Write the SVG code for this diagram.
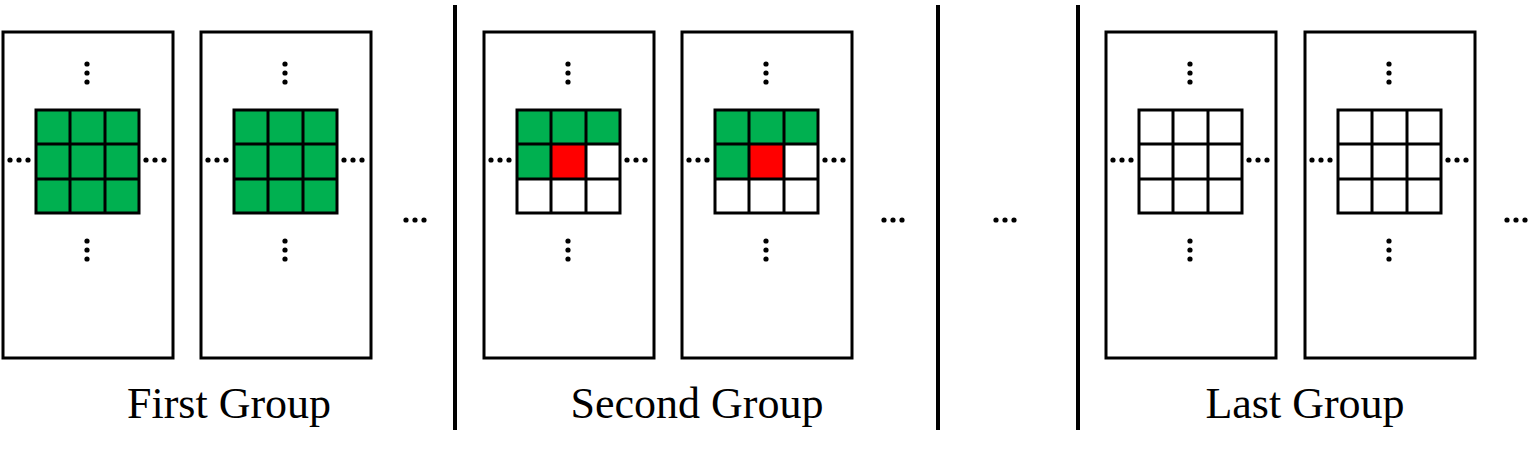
<svg xmlns="http://www.w3.org/2000/svg" width="1528" height="452" viewBox="0 0 1528 452">
<style>
.p{fill:#fff;stroke:#000;stroke-width:3}
.c{stroke:#000;stroke-width:3}
.g{fill:#00b050}.r{fill:#ff0000}.w{fill:#fff}
.t{font-family:"Liberation Serif",serif;font-size:44px;fill:#000}
.d{fill:#000}
</style>
<defs>
<g id="vd"><circle cx="0" cy="0" r="2.6"/><circle cx="0" cy="9" r="2.6"/><circle cx="0" cy="18" r="2.6"/></g>
<g id="hd"><circle cx="0" cy="0" r="2.6"/><circle cx="9" cy="0" r="2.6"/><circle cx="18" cy="0" r="2.6"/></g>
<g id="frame">
<rect class="p" x="0" y="0" width="170" height="326"/>
<use href="#vd" x="84" y="32"/><use href="#vd" x="84" y="209"/>
<use href="#hd" x="7" y="128"/><use href="#hd" x="143" y="128"/>
</g>
<g id="lines" fill="none" stroke="#000" stroke-width="3">
<rect x="33" y="78" width="103" height="103"/>
<line x1="67" y1="78" x2="67" y2="181"/><line x1="102" y1="78" x2="102" y2="181"/>
<line x1="33" y1="112" x2="136" y2="112"/><line x1="33" y1="147" x2="136" y2="147"/>
</g>
<g id="gA"><use href="#frame"/><rect class="g" x="33" y="78" width="103" height="103"/><use href="#lines"/></g>
<g id="gB"><use href="#frame"/><rect class="g" x="33" y="78" width="103" height="34"/><rect class="g" x="33" y="112" width="34" height="35"/><rect class="r" x="67" y="112" width="35" height="35"/><use href="#lines"/></g>
<g id="gC"><use href="#frame"/><use href="#lines"/></g>
</defs>
<g id="node-p1"><use href="#gA" x="3" y="32"/></g>
<g id="node-p2"><use href="#gA" x="201" y="32"/></g>
<g id="node-p3"><use href="#gB" x="484" y="32"/></g>
<g id="node-p4"><use href="#gB" x="682" y="32"/></g>
<g id="node-p5"><use href="#gC" x="1106" y="32"/></g>
<g id="node-p6"><use href="#gC" x="1305" y="32"/></g>
<g id="separators" class="c">
<line x1="455" y1="5" x2="455" y2="430" stroke-width="4"/>
<line x1="938" y1="5" x2="938" y2="430" stroke-width="4"/>
<line x1="1078" y1="5" x2="1078" y2="430" stroke-width="4"/>
</g>
<g id="ellipses" class="d">
<use href="#hd" x="406" y="220"/><use href="#hd" x="884" y="220"/><use href="#hd" x="996" y="220"/><use href="#hd" x="1507" y="220"/>
</g>
<g id="labels" class="t" text-anchor="middle">
<text x="229" y="418">First Group</text>
<text x="697" y="418">Second Group</text>
<text x="1305" y="418">Last Group</text>
</g>
</svg>
